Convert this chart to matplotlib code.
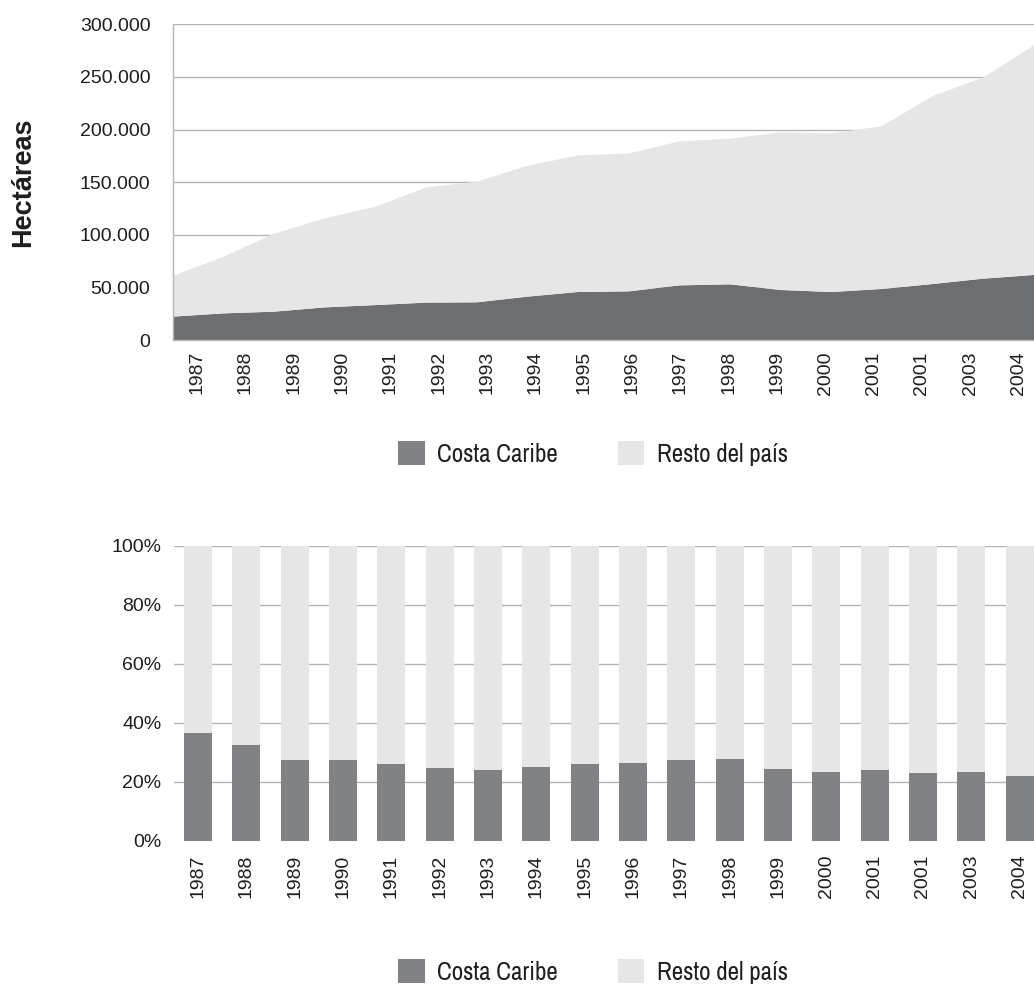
import matplotlib.pyplot as plt
from matplotlib.patches import Patch
from matplotlib.ticker import FuncFormatter, PercentFormatter

years = ['1987', '1988', '1989', '1990', '1991', '1992', '1993', '1994', '1995',
         '1996', '1997', '1998', '1999', '2000', '2001', '2001', '2003', '2004']

# hectáreas sembradas
costa_caribe = [22200, 25300, 26900, 31000, 33200, 35500, 35800, 41200, 45600,
                46200, 51900, 52900, 47500, 45600, 48500, 53200, 58300, 61800]
resto_pais = [38600, 53700, 74100, 84600, 93500, 109500, 114600, 124400, 129800,
              131100, 136800, 138400, 149800, 150700, 154800, 178600, 191200, 218200]

# participación porcentual de la Costa Caribe
costa_pct = [36.6, 32.4, 27.4, 27.4, 26.0, 24.6, 24.0, 25.0, 26.0,
             26.3, 27.4, 27.7, 24.3, 23.3, 24.0, 23.0, 23.3, 21.9]

W, H = 1034, 988
DARK_AREA = '#6d6e71'
DARK_BAR = '#818286'
LIGHT = '#e6e6e6'
GRID = '#b5b5b5'
TEXT = '#1e1e1e'
TICK_FONT = 'Liberation Sans'
LEG_FONT = ['Archivo Narrow', 'Liberation Sans']

fig = plt.figure(figsize=(W / 100, H / 100), dpi=100)


def box(left, top, right, bottom):
    return [left / W, 1 - bottom / H, (right - left) / W, (bottom - top) / H]


def thousands(v, pos):
    return f'{int(v):,}'.replace(',', '.')


# --- área apilada (hectáreas) ---
ax1 = fig.add_axes(box(172.7, 24.3, 1034, 340))
x = list(range(len(years)))
ax1.stackplot(x, costa_caribe, resto_pais, colors=[DARK_AREA, LIGHT],
              linewidth=0, zorder=2)
ax1.set_xlim(0, len(years) - 1)
ax1.set_ylim(0, 300000)
ax1.set_yticks(range(0, 300001, 50000))
ax1.yaxis.set_major_formatter(FuncFormatter(thousands))
ax1.yaxis.grid(True, color=GRID, linewidth=1.0, zorder=1)
ax1.set_axisbelow(True)
ax1.set_xticks([])
ax1.tick_params(axis='y', length=0, pad=16)
for lab in ax1.get_yticklabels():
    lab.set_fontfamily(TICK_FONT)
    lab.set_fontsize(14)
    lab.set_color(TEXT)
for side in ['top', 'right']:
    ax1.spines[side].set_visible(False)
for side in ['left', 'bottom']:
    ax1.spines[side].set_color(GRID)
    ax1.spines[side].set_linewidth(1.0)

# etiquetas de años del gráfico de área
ax1_lab = fig.add_axes(box(172.7, 24.3, 172.7 + 870, 340))
ax1_lab.patch.set_visible(False)
for s in ax1_lab.spines.values():
    s.set_visible(False)
ax1_lab.set_xlim(-0.5, len(years) - 0.5)
ax1_lab.set_xticks(x)
ax1_lab.set_xticklabels(years, rotation=90, fontfamily=TICK_FONT, fontsize=14,
                        color=TEXT)
ax1_lab.set_yticks([])
ax1_lab.tick_params(axis='x', length=0, pad=8)

fig.text(22.8 / W, 1 - 182.7 / H, 'Hectáreas', rotation=90, ha='center',
         va='center', fontsize=19.5, fontweight='bold', fontfamily=TICK_FONT,
         color=TEXT)

# --- barras apiladas al 100% ---
ax2 = fig.add_axes(box(173.8, 545.7, 173.8 + 870, 840.7))
resto_pct = [100 - v for v in costa_pct]
ax2.bar(x, costa_pct, width=0.58, color=DARK_BAR, zorder=2)
ax2.bar(x, resto_pct, width=0.58, bottom=costa_pct, color=LIGHT, zorder=2)
ax2.set_xlim(-0.5, len(years) - 0.5)
ax2.set_ylim(0, 100)
ax2.set_yticks(range(0, 101, 20))
ax2.yaxis.set_major_formatter(PercentFormatter(decimals=0))
ax2.yaxis.grid(True, color=GRID, linewidth=1.0, zorder=1)
ax2.get_ygridlines()[0].set_visible(False)
ax2.set_axisbelow(True)
ax2.set_xticks(x)
ax2.set_xticklabels(years, rotation=90)
ax2.tick_params(axis='y', length=0, pad=9)
ax2.tick_params(axis='x', length=0, pad=10)
for lab in ax2.get_yticklabels() + ax2.get_xticklabels():
    lab.set_fontfamily(TICK_FONT)
    lab.set_fontsize(14)
    lab.set_color(TEXT)
for s in ax2.spines.values():
    s.set_visible(False)

# --- leyendas ---
handles = [Patch(facecolor=DARK_BAR, edgecolor='none', label='Costa Caribe'),
           Patch(facecolor=LIGHT, edgecolor='none', label='Resto del país')]
for yc in [453.5, 971.5]:
    fig.legend(handles=handles, loc='center', ncol=2, frameon=False,
               bbox_to_anchor=(593 / W, 1 - yc / H),
               prop={'family': LEG_FONT, 'size': 18},
               handlelength=1.05, handleheight=1.05, handletextpad=0.5,
               columnspacing=2.4, labelcolor=TEXT)

fig.savefig('out.png', dpi=100)
